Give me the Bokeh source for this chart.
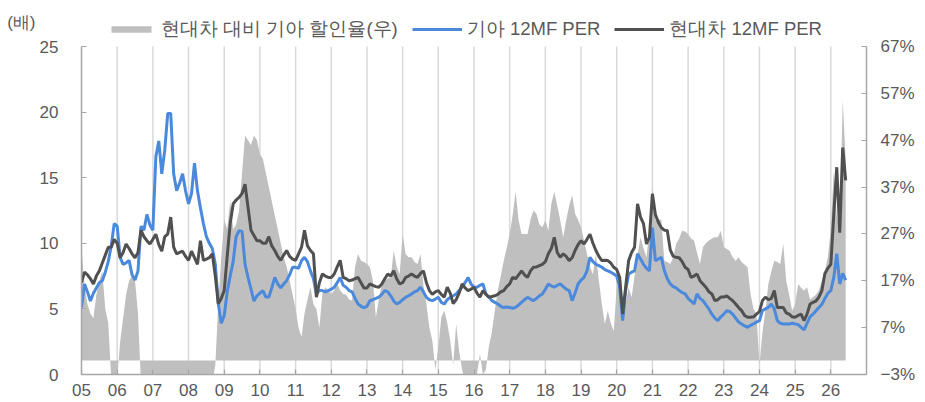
from bokeh.plotting import figure
from bokeh.models import Range1d, LinearAxis, FixedTicker, Legend, LegendItem
from bokeh.embed import file_html
from bokeh.resources import INLINE
import numpy as np

# ---- data: monthly values, Jan 2005 .. Jun 2026 ----
kia_per = [
    5.1, 6.9, 6.3, 5.6, 6.2, 6.6, 7.0, 7.15, 7.8, 8.6, 9.8, 11.5,      # 2005
    11.3, 8.9, 8.4, 8.5, 8.7, 7.6, 7.2, 7.9, 11.3, 11.0, 12.2, 11.4,   # 2006
    11.0, 16.6, 17.8, 15.3, 17.1, 19.9, 19.9, 15.3, 14.0, 14.6, 15.3, 14.0,  # 2007
    13.0, 13.8, 16.1, 14.0, 12.7, 11.5, 10.5, 10.0, 9.6, 8.4, 5.4, 3.9,  # 2008
    4.5, 6.3, 7.5, 8.6, 10.5, 10.97, 10.9, 8.4, 7.4, 6.5, 5.6, 6.0,    # 2009
    6.2, 6.4, 5.9, 5.9, 6.6, 7.4, 6.9, 6.6, 6.9, 7.15, 7.6, 8.17,      # 2010
    8.17, 8.1, 8.68, 8.93, 8.6, 7.9, 7.3, 6.14, 6.4, 6.4, 6.3, 6.4,    # 2011
    6.5, 6.65, 7.0, 7.4, 6.8, 6.65, 6.4, 6.3, 5.8, 5.37, 5.2, 5.1,     # 2012
    5.2, 5.63, 5.7, 5.8, 5.9, 6.1, 6.4, 6.3, 6.0, 5.6, 5.37, 5.5,      # 2013
    5.7, 5.88, 6.0, 6.14, 6.3, 6.4, 6.65, 6.3, 5.88, 5.7, 5.63, 5.75,  # 2014
    5.88, 5.5, 5.37, 5.7, 5.88, 6.0, 6.14, 6.4, 6.65, 7.0, 7.4, 6.9,   # 2015
    6.65, 6.65, 6.8, 6.9, 6.14, 5.9, 5.63, 5.5, 5.37, 5.2, 5.1, 5.15,  # 2016
    5.1, 5.05, 5.12, 5.3, 5.5, 5.7, 5.88, 5.75, 5.63, 5.8, 6.0, 6.14,  # 2017
    6.5, 6.9, 6.75, 6.65, 6.8, 6.9, 6.7, 6.5, 6.4, 5.63, 6.2, 6.9,     # 2018
    7.2, 7.4, 7.9, 8.93, 8.6, 8.4, 8.3, 8.17, 8.0, 7.9, 7.8, 7.66,     # 2019
    7.5, 6.65, 4.1, 6.4, 7.66, 7.8, 7.9, 9.2, 8.8, 8.4, 8.1, 7.9,      # 2020
    11.2, 8.68, 8.8, 8.93, 7.92, 7.3, 6.9, 6.7, 6.6, 6.4, 6.25, 6.14,  # 2021
    5.8, 5.6, 5.37, 6.14, 5.8, 5.63, 5.3, 5.0, 4.6, 4.3, 4.1, 4.4,     # 2022
    4.6, 4.87, 4.8, 4.6, 4.3, 4.0, 3.85, 3.7, 3.6, 3.75, 3.85, 4.0,    # 2023
    4.1, 4.87, 5.0, 5.12, 5.37, 5.0, 4.1, 3.9, 3.85, 3.85, 3.85, 3.9,  # 2024
    3.85, 3.8, 3.6, 3.4, 3.9, 4.4, 4.6, 4.85, 5.1, 5.35, 5.8, 6.2,     # 2025
    6.4, 7.4, 9.2, 6.9, 7.7, 7.2,                                      # 2026
]

hyundai_per = [
    7.0, 7.8, 7.6, 7.3, 6.9, 7.5, 7.9, 8.5, 9.1, 9.7, 9.7, 10.3,       # 2005
    10.0, 8.9, 9.3, 9.95, 9.6, 9.2, 8.9, 9.3, 11.0, 10.5, 10.2, 9.95,  # 2006
    10.3, 10.7, 9.9, 9.4, 10.5, 10.7, 12.0, 9.7, 9.2, 9.3, 9.4, 9.0,   # 2007
    8.7, 9.4, 8.9, 8.4, 10.2, 8.7, 8.8, 8.9, 9.2, 7.5, 5.4, 5.8,       # 2008
    6.4, 9.0, 11.5, 13.0, 13.3, 13.5, 13.8, 14.5, 12.75, 11.0, 10.6, 10.2,  # 2009
    10.2, 10.0, 10.0, 10.5, 9.8, 9.45, 9.0, 8.7, 9.1, 9.45, 9.0, 8.8,  # 2010
    8.7, 9.2, 9.7, 11.0, 9.8, 9.45, 9.2, 5.9, 7.0, 7.66, 7.5, 7.4,     # 2011
    7.4, 7.66, 8.2, 8.7, 7.4, 7.3, 7.15, 7.2, 7.3, 7.4, 7.0, 6.6,      # 2012
    6.6, 6.9, 6.8, 6.7, 6.65, 6.9, 7.3, 7.66, 7.5, 7.9, 7.3, 6.9,      # 2013
    7.0, 7.4, 7.5, 7.66, 7.5, 7.4, 7.7, 7.9, 7.0, 6.4, 6.1, 6.3,       # 2014
    6.4, 6.1, 5.9, 6.65, 6.2, 5.4, 5.7, 6.2, 6.9, 6.6, 6.4, 6.5,       # 2015
    6.65, 6.2, 5.9, 6.4, 6.1, 5.9, 5.95, 6.0, 6.1, 6.3, 6.4, 6.7,      # 2016
    6.9, 7.4, 7.3, 7.6, 7.9, 7.6, 7.4, 7.9, 8.17, 8.2, 8.3, 8.4,       # 2017
    8.6, 9.2, 9.6, 10.45, 9.3, 8.93, 9.2, 9.0, 8.68, 8.9, 9.45, 9.9,   # 2018
    10.2, 9.95, 10.3, 10.7, 10.0, 9.45, 9.0, 8.68, 8.7, 8.68, 8.5, 8.17,  # 2019
    8.0, 7.4, 4.6, 6.65, 8.68, 9.3, 9.7, 13.0, 12.0, 11.5, 9.95, 10.45,  # 2020
    13.77, 12.2, 11.6, 11.2, 11.0, 10.97, 9.5, 9.0, 8.93, 8.9, 8.6, 8.17,  # 2021
    8.0, 7.4, 7.5, 7.66, 7.15, 6.9, 6.65, 6.3, 6.14, 5.63, 5.7, 5.9,   # 2022
    5.9, 6.0, 5.8, 5.63, 5.37, 5.1, 4.87, 4.5, 4.36, 4.36, 4.4, 4.6,   # 2023
    4.8, 5.63, 5.9, 5.7, 5.8, 6.4, 5.1, 5.1, 5.1, 4.7, 4.6, 4.4,       # 2024
    4.36, 4.5, 4.6, 4.1, 4.6, 5.35, 5.5, 5.6, 5.9, 6.4, 7.7, 8.1,      # 2025
    8.4, 12.2, 15.8, 10.8, 17.3, 14.8,                                 # 2026
]

discount_pct = [
    24, 16, 12, 10, 9, 14, 17, 19, 11, 8, -4, -4,                      # 2005
    -4, 4, 9, 14, 17, 18, 17, 10, -5, -10, -15, -12,                   # 2006
    -10, -55, -65, -60, -65, -70, -65, -60, -50, -55, -60, -45,        # 2007
    -45, -45, -75, -65, -25, -30, -20, -12, -5, -1, 12, 22,            # 2008
    30, 28, 34, 28, 29, 32, 40, 48, 47, 46, 48, 47,                    # 2009
    44, 43, 40, 37, 34, 31, 28, 25, 22, 20, 17, 14,                    # 2010
    11, 7, 5, 10, 13, 15.6, 12, 11, 7, 14.2, 15.6, 15,                 # 2011
    14.2, 15, 16.3, 15, 14.2, 14, 13, 12.8, 20, 22.7, 21.3, 21,        # 2012
    20.6, 19.9, 17, 9.2, 13, 16.3, 17, 17.5, 17.7, 23.4, 20, 18.4,     # 2013
    27, 22.7, 22, 22, 21, 20.6, 22.7, 16, 12, 7, 4.2, -2,              # 2014
    2.8, 9.2, 10.6, 8, 4.2, -1, 7.8, 2, -2, -5, -6, -4,                # 2015
    -4, -3, 1.4, -3, -2, 3, 6, 10.6, 15, 18, 21.3, 24,                 # 2016
    27, 31, 36, 29.9, 27, 27, 27, 30, 32, 31.3, 29, 28.4,              # 2017
    29.9, 27.7, 33.4, 36, 33, 29.9, 26.3, 29.9, 33, 35.3, 31.3, 30,    # 2018
    28.4, 25.6, 22.7, 20, 18.4, 22.7, 17, 12, 7.8, 10.6, 8, 6.3,       # 2019
    15.6, 17, 13, 12, 15.6, 13.5, 18, 22.7, 26.3, 24, 22, 28,          # 2020
    36.7, 29.9, 30, 30, 21.3, 21, 20.6, 22, 24.9, 26, 27.7, 27.5,      # 2021
    27, 26, 25.6, 23, 20.6, 24.2, 25, 25.6, 26, 26.3, 26.3, 27.7,      # 2022
    24.2, 23.8, 23.4, 22, 21.3, 22, 21, 20.5, 19.9, 14.2, 11, 9.9,     # 2023
    -1, 6, 10.6, 16.3, 19, 21.3, 21, 20.6, 24.9, 17, 14, 10.6,         # 2024
    12, 16.3, 15.5, 14.9, 15.6, 13, 13.5, 14, 15, 17, 19, 22,          # 2025
    28, 40.5, 31, 28, 55.5, 43,                                        # 2026
]

years = list(range(2005, 2027))
year_labels = ["05", "06", "07", "08", "09", "10", "11", "12", "13", "14", "15",
               "16", "17", "18", "19", "20", "21", "22", "23", "24", "25", "26"]
left_ticks = [0, 5, 10, 15, 20, 25]
right_ticks = [-3, 7, 17, 27, 37, 47, 57, 67]
right_labels = ["\u22123%", "7%", "17%", "27%", "37%", "47%", "57%", "67%"]

legend_labels = ["현대차 대비 기아 할인율(우)", "기아 12MF PER", "현대차 12MF PER"]
unit_label = "(배)"

# ---- layout constants (pixels) ----
W, H = 925, 402
B_LEFT, B_RIGHT, B_BOTTOM = 81, 59, 28
TOP_GAP = 46                      # space above the value 25 (legend / unit label)
PLOT_H = H - B_BOTTOM             # frame reaches the top of the canvas
PX_PER_UNIT = (PLOT_H - TOP_GAP) / 25.0
Y_TOP = PLOT_H / PX_PER_UNIT      # left-axis value at the canvas top
PCT_PER_UNIT = 70.0 / 25.0
PCT_TOP = -3 + Y_TOP * PCT_PER_UNIT
UNIT_POS = 25 + 24.0 / PX_PER_UNIT   # where the "(배)" label sits

x = 2005 + np.arange(len(kia_per)) / 12.0

FONT = "Liberation Sans"
TXT = "#595959"
AX = "#A6A6A6"

p = figure(width=W, height=H, output_backend="svg", toolbar_location=None, title=None,
           x_range=Range1d(2005, 2027), y_range=Range1d(0, Y_TOP),
           min_border_left=B_LEFT, min_border_right=B_RIGHT, min_border_top=0,
           min_border_bottom=B_BOTTOM)
p.outline_line_color = None
p.background_fill_color = "white"
p.border_fill_color = "white"
p.xgrid.visible = False
p.ygrid.visible = False

p.extra_y_ranges = {"pct": Range1d(-3, PCT_TOP)}

# year grid lines, only over the value range 0..25
p.segment(x0=years[1:], y0=0, x1=years[1:], y1=25, line_color="#D9D9D9",
          line_width=1.5, level="underlay")

area = p.varea(x=x, y1=0, y2=discount_pct, y_range_name="pct",
               fill_color="#BFBFBF", fill_alpha=1.0)
kia_line = p.line(x, kia_per, line_color="#4A89DC", line_width=3)
hy_line = p.line(x, hyundai_per, line_color="#505050", line_width=3)


def style_axis(ax, standoff):
    ax.axis_line_color = AX
    ax.axis_line_width = 1.5
    ax.major_tick_line_color = AX
    ax.major_tick_line_width = 1.2
    ax.major_tick_in = 5
    ax.major_tick_out = 0
    ax.minor_tick_line_color = None
    ax.major_label_text_font = FONT
    ax.major_label_text_font_size = "17px"
    ax.major_label_text_color = TXT
    ax.major_label_standoff = standoff


p.xaxis.ticker = FixedTicker(ticks=years)
p.xaxis.major_label_overrides = {y: l for y, l in zip(years, year_labels)}
style_axis(p.xaxis[0], 9)

p.yaxis.ticker = FixedTicker(ticks=left_ticks)
p.yaxis.bounds = (0, 25)
style_axis(p.yaxis[0], 23)

# unit label "(배)" carried by an extra, line-less left axis
unit_axis = LinearAxis(ticker=FixedTicker(ticks=[UNIT_POS]))
unit_axis.major_label_overrides = {UNIT_POS: unit_label}
style_axis(unit_axis, 1)
unit_axis.axis_line_color = None
unit_axis.major_tick_line_color = None
p.add_layout(unit_axis, "left")

raxis = LinearAxis(y_range_name="pct", ticker=FixedTicker(ticks=right_ticks))
raxis.major_label_overrides = {t: l for t, l in zip(right_ticks, right_labels)}
raxis.bounds = (-3, 67)
style_axis(raxis, 14)
p.add_layout(raxis, "right")

# legend, inside the (extended) frame above the value 25
legend = Legend(items=[LegendItem(label=legend_labels[0], renderers=[area]),
                       LegendItem(label=legend_labels[1], renderers=[kia_line]),
                       LegendItem(label=legend_labels[2], renderers=[hy_line])],
                orientation="horizontal", location=(25, PLOT_H - 41),
                glyph_width=50, glyph_height=8, label_standoff=5, spacing=14,
                padding=0, margin=0, border_line_color=None, background_fill_alpha=0,
                label_text_font=FONT, label_text_font_size="18.5px", label_text_color=TXT)
p.add_layout(legend, "center")

open("out.html", "w").write(file_html(p, INLINE))
